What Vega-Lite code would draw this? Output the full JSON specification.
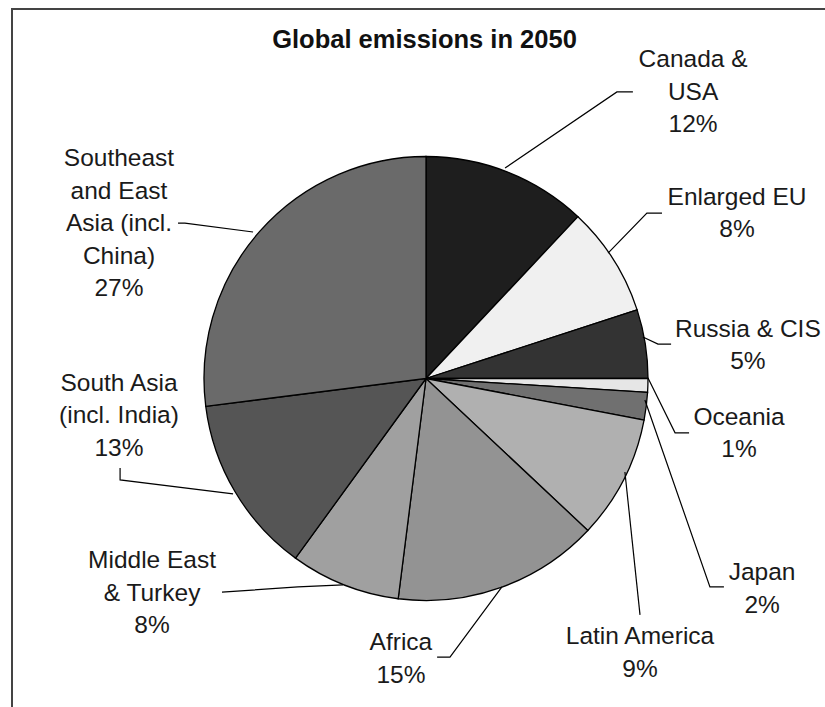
{
  "$schema": "https://vega.github.io/schema/vega-lite/v6.json",
  "width": 813,
  "height": 698,
  "autosize": {"type": "none"},
  "padding": {"left": 12, "top": 9, "right": 0, "bottom": 0},
  "background": "white",
  "title": {
    "text": "Global emissions in 2050",
    "font": "Liberation Sans",
    "fontSize": 25.5,
    "fontWeight": "bold",
    "color": "#111111",
    "anchor": "middle",
    "frame": "group",
    "offset": -44,
    "dx": 6
  },
  "config": {
    "view": {"stroke": "#444444", "strokeWidth": 2, "strokeDash": [813, 1511, 698]}
  },
  "datasets": {
    "slices": [
      {"region": "Canada & USA", "share": 12},
      {"region": "Enlarged EU", "share": 8},
      {"region": "Russia & CIS", "share": 5},
      {"region": "Oceania", "share": 1},
      {"region": "Japan", "share": 2},
      {"region": "Latin America", "share": 9},
      {"region": "Africa", "share": 15},
      {"region": "Middle East & Turkey", "share": 8},
      {"region": "South Asia", "share": 13},
      {"region": "Southeast and East Asia", "share": 27}
    ],
    "labels": [
      {"region": "Canada & USA", "name": "Canada &\nUSA", "lx": 1.203, "ly": 1.403},
      {"region": "Enlarged EU", "name": "Enlarged EU", "lx": 1.401, "ly": 0.782},
      {"region": "Russia & CIS", "name": "Russia & CIS", "lx": 1.45, "ly": 0.187},
      {"region": "Oceania", "name": "Oceania", "lx": 1.41, "ly": -0.209},
      {"region": "Japan", "name": "Japan", "lx": 1.514, "ly": -0.908},
      {"region": "Latin America", "name": "Latin America", "lx": 0.964, "ly": -1.196},
      {"region": "Africa", "name": "Africa", "lx": -0.113, "ly": -1.223},
      {"region": "Middle East & Turkey", "name": "Middle East\n& Turkey", "lx": -1.234, "ly": -0.854},
      {"region": "South Asia", "name": "South Asia\n(incl. India)", "lx": -1.383, "ly": -0.056},
      {"region": "Southeast and East Asia", "name": "Southeast\nand East\nAsia (incl.\nChina)", "lx": -1.383, "ly": 0.957}
    ],
    "leaders": [
      {"region": "Canada & USA", "seq": 1, "lx": 0.356, "ly": 0.948},
      {"region": "Canada & USA", "seq": 2, "lx": 0.86, "ly": 1.291},
      {"region": "Canada & USA", "seq": 3, "lx": 0.932, "ly": 1.291},
      {"region": "Enlarged EU", "seq": 1, "lx": 0.82, "ly": 0.565},
      {"region": "Enlarged EU", "seq": 2, "lx": 0.995, "ly": 0.745},
      {"region": "Enlarged EU", "seq": 3, "lx": 1.063, "ly": 0.745},
      {"region": "Russia & CIS", "seq": 1, "lx": 0.977, "ly": 0.187},
      {"region": "Russia & CIS", "seq": 2, "lx": 1.045, "ly": 0.155},
      {"region": "Russia & CIS", "seq": 3, "lx": 1.104, "ly": 0.155},
      {"region": "Oceania", "seq": 1, "lx": 1.0, "ly": 0.002},
      {"region": "Oceania", "seq": 2, "lx": 1.122, "ly": -0.245},
      {"region": "Oceania", "seq": 3, "lx": 1.185, "ly": -0.245},
      {"region": "Japan", "seq": 1, "lx": 0.986, "ly": -0.097},
      {"region": "Japan", "seq": 2, "lx": 1.279, "ly": -0.939},
      {"region": "Japan", "seq": 3, "lx": 1.342, "ly": -0.939},
      {"region": "Latin America", "seq": 1, "lx": 0.896, "ly": -0.421},
      {"region": "Latin America", "seq": 2, "lx": 0.964, "ly": -1.065},
      {"region": "Africa", "seq": 1, "lx": 0.342, "ly": -0.939},
      {"region": "Africa", "seq": 2, "lx": 0.108, "ly": -1.255},
      {"region": "Africa", "seq": 3, "lx": 0.05, "ly": -1.255},
      {"region": "Middle East & Turkey", "seq": 1, "lx": -0.374, "ly": -0.93},
      {"region": "Middle East & Turkey", "seq": 2, "lx": -0.577, "ly": -0.939},
      {"region": "Middle East & Turkey", "seq": 3, "lx": -0.919, "ly": -0.962},
      {"region": "South Asia", "seq": 1, "lx": -0.869, "ly": -0.52},
      {"region": "South Asia", "seq": 2, "lx": -1.378, "ly": -0.457},
      {"region": "South Asia", "seq": 3, "lx": -1.378, "ly": -0.403},
      {"region": "Southeast and East Asia", "seq": 1, "lx": -0.779, "ly": 0.66},
      {"region": "Southeast and East Asia", "seq": 2, "lx": -1.086, "ly": 0.7},
      {"region": "Southeast and East Asia", "seq": 3, "lx": -1.117, "ly": 0.7}
    ]
  },
  "layer": [
    {
      "data": {"name": "slices"},
      "transform": [{"window": [{"op": "row_number", "as": "idx"}]}],
      "mark": {"type": "arc", "outerRadius": 222, "stroke": "#000000", "strokeWidth": 1.3},
      "encoding": {
        "x": {"datum": 0, "type": "quantitative", "scale": {"domain": [-1.86486, 1.7973], "nice": false, "zero": false}, "axis": null},
        "y": {"datum": 0, "type": "quantitative", "scale": {"domain": [-1.47973, 1.66441], "nice": false, "zero": false}, "axis": null},
        "theta": {"field": "share", "type": "quantitative", "stack": true},
        "order": {"field": "idx", "type": "quantitative"},
        "fill": {
          "field": "region",
          "type": "nominal",
          "legend": null,
          "scale": {
            "domain": ["Canada & USA", "Enlarged EU", "Russia & CIS", "Oceania", "Japan", "Latin America", "Africa", "Middle East & Turkey", "South Asia", "Southeast and East Asia"],
            "range": ["#1e1e1e", "#f0f0f0", "#333333", "#e6e6e6", "#707070", "#b0b0b0", "#939393", "#a0a0a0", "#555555", "#6a6a6a"]
          }
        }
      }
    },
    {
      "data": {"name": "leaders"},
      "mark": {"type": "line", "stroke": "#000000", "strokeWidth": 1.2, "interpolate": "linear"},
      "encoding": {
        "x": {"field": "lx", "type": "quantitative", "scale": {"domain": [-1.86486, 1.7973], "nice": false, "zero": false}, "axis": null},
        "y": {"field": "ly", "type": "quantitative", "scale": {"domain": [-1.47973, 1.66441], "nice": false, "zero": false}, "axis": null},
        "detail": {"field": "region", "type": "nominal"},
        "order": {"field": "seq", "type": "quantitative"}
      }
    },
    {
      "data": {"name": "labels"},
      "transform": [
        {"lookup": "region", "from": {"data": {"name": "slices"}, "key": "region", "fields": ["share"]}},
        {"calculate": "datum.name + '\\n' + datum.share + '%'", "as": "label"}
      ],
      "mark": {"type": "text", "font": "Liberation Sans", "fontSize": 24.5, "lineHeight": 32.5, "align": "center", "baseline": "alphabetic", "lineBreak": "\n", "fill": "#1a1a1a"},
      "encoding": {
        "x": {"field": "lx", "type": "quantitative", "scale": {"domain": [-1.86486, 1.7973], "nice": false, "zero": false}, "axis": null},
        "y": {"field": "ly", "type": "quantitative", "scale": {"domain": [-1.47973, 1.66441], "nice": false, "zero": false}, "axis": null},
        "text": {"field": "label", "type": "nominal"}
      }
    }
  ]
}
